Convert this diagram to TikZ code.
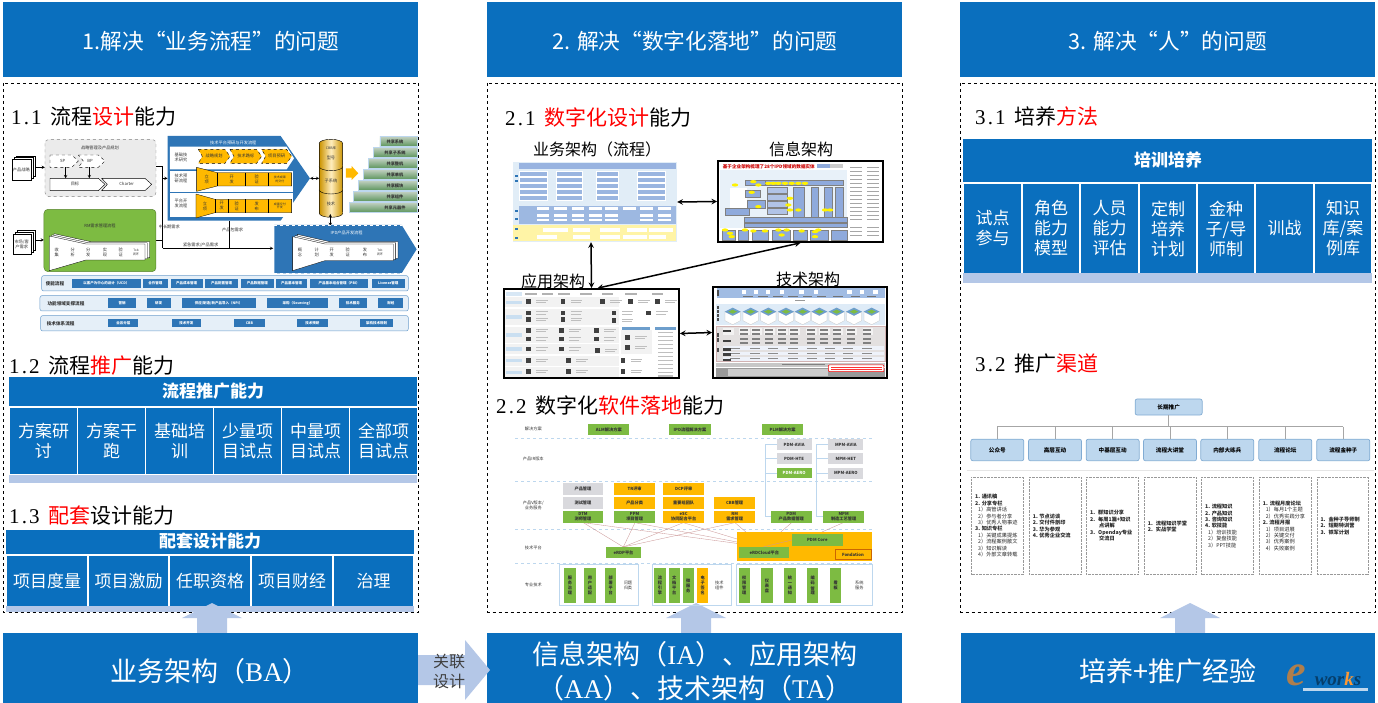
\documentclass[tikz,border=0pt]{standalone}
\usepackage{fontspec}
\setmainfont{Noto Sans CJK SC}
\newfontfamily\latf{Liberation Serif}
\newfontfamily\secf[LetterSpace=10]{Liberation Serif}
\definecolor{mainblue}{HTML}{0A6FBE}
\definecolor{paleblue}{HTML}{B4C7E7}
\definecolor{skyblue}{HTML}{BDD7EE}
\definecolor{thumbblue}{HTML}{2E75B6}
\definecolor{blockblue}{HTML}{8FAADC}
\definecolor{procorange}{HTML}{FFB900}
\definecolor{procgreen}{HTML}{7DBB42}
\definecolor{tilegrey}{HTML}{D9D9DD}
\definecolor{rulegrey}{HTML}{A6A6A6}
\tikzset{
  bluefill/.style={fill=mainblue,draw=none},
  whitetxt/.style={text=white,align=center,inner sep=0pt},
  sectitle/.style={anchor=west,inner sep=0pt,font=\fontsize{21}{23}\selectfont},
  hdtxt/.style={whitetxt,font=\fontsize{21.7}{24}\selectfont},
  bigtxt/.style={whitetxt,font=\fontsize{27}{34}\selectfont},
  celltxt/.style={whitetxt,font=\fontsize{17}{20}\selectfont},
  tabhd/.style={whitetxt,font=\bfseries\fontsize{17}{20}\selectfont},
  archtxt/.style={inner sep=0pt,font=\fontsize{16}{18}\selectfont},
  tiny/.style={inner sep=0pt,align=center,text=black!80,font=\fontsize{4.2}{5}\selectfont},
  tinyb/.style={tiny,font=\bfseries\fontsize{4.2}{5}\selectfont},
  tinyw/.style={tinyb,text=white},
  archframe/.style={draw=black,line width=1.7pt,inner sep=0pt,fill=white},
  link/.style={<->,>=stealth,line width=1.5pt},
  thin arrow/.style={->,>=stealth,line width=.5pt},
  listtxt/.style={anchor=west,inner sep=0pt,align=left,text=black!85,font=\fontsize{5.2}{6.4}\selectfont},
  treebox/.style={fill=skyblue,draw=thumbblue!60,line width=.7pt,rounded corners=2pt,inner sep=0pt,font=\bfseries\fontsize{5.6}{6}\selectfont},
}
\newcommand{\secnum}[1]{{\secf\fontsize{21}{21}\selectfont #1\hspace{9pt}}}
\begin{document}
\begin{tikzpicture}[x=1pt,y=-1pt]
   \useasboundingbox (0,0) rectangle (1378,703);

   % columns
   \foreach \xa/\xb/\cx/\t in {3/418/211/{1.解决“业务流程”的问题},487/902/695/{2. 解决“数字化落地”的问题},960/1375/1168/{3. 解决“人”的问题}}{
      \draw[bluefill] (\xa,2) rectangle (\xb,77);
      \node[hdtxt] (hd\xa) at (\cx,41) {\t};
      \draw[dashed,line width=.6pt] (\xa+.5,83) rectangle (\xb+.5,612);
   }

   \node[sectitle] (secAa) at (11,117) {\secnum{1.1}流程{\color{red}设计}能力};
   \node[sectitle] (secAb) at (9,366) {\secnum{1.2}流程{\color{red}推广}能力};
   \node[sectitle] (secAc) at (9,516) {\secnum{1.3}{\color{red}配套}设计能力};
   \node[sectitle] (secBa) at (505,117) {\secnum{2.1}{\color{red}数字化设计}能力};
   \node[sectitle] (secBb) at (496,405) {\secnum{2.2}数字化{\color{red}软件落地}能力};
   \node[sectitle] (secCa) at (975,117) {\secnum{3.1}培养{\color{red}方法}};
   \node[sectitle] (secCb) at (975,364) {\secnum{3.2}推广{\color{red}渠道}};

   % table 1.2
   \draw[bluefill] (9,377) rectangle (417,406);
   \node[tabhd] (tabAb) at (213,391) {流程推广能力};
   \draw[fill=paleblue,draw=none] (9,475) rectangle (417,483);
   \foreach \xa/\xb/\t [count=\i] in {10/77/{方案研\\讨},78/145/{方案干\\跑},146/213/{基础培\\训},214/281/{少量项\\目试点},282/349/{中量项\\目试点},350/417/{全部项\\目试点}}
   \draw[bluefill] (\xa,408) rectangle (\xb,474) node[midway,celltxt] (cellAb\i) {\t};

   % table 1.3
   \draw[bluefill] (6,530) rectangle (414,554);
   \node[tabhd] (tabAc) at (210,541) {配套设计能力};
   \draw[fill=paleblue,draw=none] (6,606) rectangle (414,612);
   \foreach \xa/\xb/\t [count=\i] in {7/87/项目度量,89/168/项目激励,170/250/任职资格,252/332/项目财经,334/413/治理}
   \draw[bluefill] (\xa,556) rectangle (\xb,606) node[midway,celltxt] (cellAc\i) {\t};

   % table 3.1
   \draw[bluefill] (963,139) rectangle (1372,182);
   \node[tabhd] (tabCa) at (1168,160) {培训培养};
   \draw[fill=paleblue,draw=none] (963,273) rectangle (1372,283);
   \foreach \xa/\xb/\t [count=\i] in {964/1021/{试点\\参与},1023/1079/{角色\\能力\\模型},1081/1138/{人员\\能力\\评估},1140/1196/{定制\\培养\\计划},1198/1254/{金种\\子/导\\师制},1256/1313/{训战},1315/1371/{知识\\库/案\\例库}}
   \draw[bluefill] (\xa,184) rectangle (\xb,273) node[midway,celltxt] (cellCa\i) {\t};

   % bottom bars and arrows
   \foreach \cx in {212,696,1190}
   \fill[paleblue] (\cx,603) -- (\cx+30,618) -- (\cx+15,618) -- (\cx+15,634) -- (\cx-15,634) -- (\cx-15,618) -- (\cx-30,618) -- cycle;
   \draw[bluefill] (3,633) rectangle (418,703);
   \node[bigtxt] (baseA) at (210,671) {业务架构（{\latf BA}）};
   \draw[bluefill] (487,633) rectangle (902,703);
   \node[bigtxt] (baseB) at (695,671) {信息架构（{\latf IA}）、应用架构\\（{\latf AA}）、技术架构（{\latf TA}）};
   \draw[bluefill] (961,633) rectangle (1375,703);
   \node[bigtxt] (baseC) at (1168,671) {培养+推广经验};
   \fill[paleblue] (418,655) -- (465,655) -- (465,640) -- (490,670) -- (465,700) -- (465,685) -- (418,685) -- cycle;
   \node[inner sep=0pt,align=center,text=black!75,font=\fontsize{16}{20}\selectfont] (rel) at (449,671) {关联\\设计};

   % logo
   \fill[skyblue] (1303,688) rectangle (1368,691);
   \node[inner sep=0pt,text=black!45!orange!70,font=\latf\itshape\bfseries\fontsize{44}{44}\selectfont] (logoe) at (1296,675) {e};
   \node[inner sep=0pt,text=black!20!mainblue!70!black,font=\latf\itshape\bfseries\fontsize{19}{19}\selectfont] (logow) at (1338,679) {wor{\color{orange!80}k}s};

   % 1.1 process map
   \begin{scope}[shift={(0,130)},x=.3333pt,y=-.3333pt]
   \foreach \dd in {14,7,0}
   \draw[fill=white,line width=.3pt,shift={(\dd pt/3,\dd pt/4)}] (35,88) rectangle (92,150);
   \node[tiny] (prodin) at (64,120) {产品战略};
   \draw[thin arrow] (108,112) -- (135,112);
   \foreach \dd in {14,7,0}
   \draw[fill=white,line width=.3pt,shift={(\dd pt/3,\dd pt/4)}] (38,312) rectangle (92,372);
   \node[tiny] (mktin) at (65,343) {市场/客\\户需求};
   \draw[thin arrow] (108,330) -- (132,330);

   \draw[dashed,rounded corners=4pt,fill=black!8,draw=black!50,line width=.4pt] (135,28) rectangle (468,200);
   \node[tiny] (strat) at (300,55) {战略管理及产品规划};
   \draw[dashed,fill=white,line width=.4pt] (150,75) -- (215,75) -- (235,93) -- (215,112) -- (150,112) -- cycle;
   \draw[dashed,fill=white,line width=.4pt] (235,75) -- (295,75) -- (315,93) -- (295,112) -- (235,112) -- (250,93) -- cycle;
   \node[tiny] (sp) at (188,93) {SP};
   \node[tiny] (bp) at (270,93) {BP};
   \draw[fill=white,line width=.4pt] (150,145) -- (295,145) -- (315,163) -- (295,182) -- (150,182) -- cycle;
   \draw[fill=white,line width=.4pt] (305,145) -- (435,145) -- (455,163) -- (435,182) -- (305,182) -- (322,163) -- cycle;
   \node[tiny] (goal) at (225,163) {目标};
   \node[tiny] (charter) at (380,163) {Charter};
   \draw[thin arrow] (197,112) -- (197,145);
   \draw[thin arrow] (268,112) -- (268,145);

   % lines behind the boxes
   \draw[line width=.5pt] (468,110) -- (488,110) -- (488,355);
   \draw[line width=.5pt] (468,330) -- (488,330);
   \draw[thin arrow] (488,355) -- (820,355);
   \draw[line width=.5pt] (687,272) -- (687,355);
   \draw[thin arrow] (488,145) -- (503,145);
   \node[tiny] (longreq) at (508,292) {中长期需求};
   \node[tiny] (pkgreq) at (698,300) {产品包需求};
   \node[tiny] (urgreq) at (602,344) {紧急需求/产品需求};

   \fill[thumbblue] (503,18) -- (842,18) -- (930,145) -- (842,272) -- (503,272) -- cycle;
   \node[tiny,text=white] (techtitle) at (700,38) {技术平台预研与开发流程};
   \fill[white] (510,50) -- (860,50) -- (882,85) -- (860,118) -- (510,118) -- cycle;
   \fill[white] (510,122) rectangle (878,185);
   \fill[white] (510,188) rectangle (878,262);
   \node[tiny] (rowa) at (543,83) {基础技\\术研究};
   \node[tiny] (rowb) at (543,146) {技术预\\研流程};
   \node[tiny] (rowc) at (543,220) {平台开\\发流程};
   \foreach \xa/\xb/\t [count=\i] in {595/690/战略规划,690/785/技术路标,785/875/项目预研}{
      \draw[dashed,fill=procorange,line width=.4pt] (\xa,58) -- (\xb-15,58) -- (\xb,79) -- (\xb-15,100) -- (\xa,100) -- (\xa+12,79) -- cycle;
      \node[tiny] (plan\i) at (\xa/2+\xb/2,79) {\t};
   }
   \draw[fill=procorange,line width=.3pt] (590,112) -- (652,128) -- (875,128) -- (875,168) -- (652,168) -- (590,184) -- cycle;
   \draw[fill=procorange,line width=.3pt] (588,192) -- (645,208) -- (875,208) -- (875,248) -- (645,248) -- (588,264) -- cycle;
   \foreach \x in {652,735,805} \draw[line width=.3pt] (\x,128) -- (\x,168);
   \foreach \x in {645,685,735,805} \draw[line width=.3pt] (\x,208) -- (\x,248);
   \foreach \x/\t [count=\i] in {620/{立\\项},695/{开\\发},770/{验\\证}} \node[tiny] (rowbt\i) at (\x,148) {\t};
   \node[tiny,font=\fontsize{3}{3.5}\selectfont] (rowbt) at (840,148) {技术成果\\的交付};
   \foreach \x/\t [count=\i] in {615/{立\\项},665/{开\\发},710/{验\\证},770/{发\\布}} \node[tiny] (rowct\i) at (\x,228) {\t};
   \node[tiny,font=\fontsize{3}{3.5}\selectfont] (rowct) at (840,228) {成果交付\\开发};

   % cbb
   \foreach \ya/\yb/\t/\n in {180/250/技术/cbbc,110/180/子系统/cbbb,40/110/型号/cbba}{
      \draw[left color=procorange!80!black,right color=procorange!80!black,middle color=procorange!25,line width=.4pt] (958,\ya) -- (958,\yb) arc[start angle=180,end angle=360,x radius=11.7pt,y radius=4pt] -- (1028,\ya) arc[start angle=0,end angle=180,x radius=11.7pt,y radius=4pt] -- cycle;
      \node[tiny] (\n) at (993,\ya/2+\yb/2+8) {\t};
   }
   \node[tiny,font=\fontsize{3.4}{4}\selectfont] (cbbtop) at (993,55) {CBB库};
   \draw[<->,>=stealth,line width=.5pt] (930,145) -- (958,145);
   \draw[<->,>=stealth,line width=.5pt] (991,252) -- (991,288);

   % stairs
   \foreach \x/\y/\t [count=\i] in {1048/218/共享元器件,1060/185/共享组件,1075/152/共享模块,1090/119/共享单机,1105/86/共享整机,1120/53/共享子系统,1140/20/共享系统}{
      \draw[top color=green!25!black!25,bottom color=green!35!black!65,draw=skyblue,line width=.7pt] (\x,\y) rectangle (1252,\y+30);
      \node[tinyb] (share\i) at (1185,\y+17) {\t};
   }
   \fill[procorange] (1038,115) -- (1055,115) -- (1055,108) -- (1075,130) -- (1055,150) -- (1055,143) -- (1038,143) -- cycle;

   % rm
   \draw[fill=procgreen,draw=procgreen!70!black,line width=.5pt,rounded corners=4pt] (132,238) rectangle (468,425);
   \node[tiny] (rmtitle) at (300,288) {RM需求管理流程};
   \foreach \dd in {14,7,0}
   \draw[fill=white,line width=.3pt,shift={(\dd pt/3,\dd pt/6)}] (148,318) -- (258,342) -- (435,342) -- (435,390) -- (258,390) -- (148,422) -- cycle;
   \foreach \x/\t [count=\i] in {170/{收\\集},218/{分\\析},265/{分\\发},315/{实\\现},362/{验\\证}} \node[tiny] (rms\i) at (\x,367) {\t};
   \node[tiny,font=\fontsize{3}{3.5}\selectfont] (rmend) at (408,367) {Tob\\闭环};

   % ipd
   \fill[thumbblue] (823,285) -- (1205,285) -- (1250,358) -- (1205,430) -- (823,430) -- cycle;
   \draw[dashed,draw=white,line width=.3pt] (823,285) -- (1205,285) (823,430) -- (1205,430);
   \node[tiny,text=white] (ipdtitle) at (1040,308) {IPD产品开发流程};
   \foreach \dd in {14,7,0}
   \draw[fill=white,line width=.3pt,shift={(\dd pt/3,\dd pt/6)}] (878,320) -- (975,342) -- (1180,342) -- (1180,392) -- (975,392) -- (878,422) -- cycle;
   \foreach \x/\t [count=\i] in {900/{概\\念},950/{计\\划},995/{开\\发},1043/{验\\证},1095/{发\\布}} \node[tiny] (ipds\i) at (\x,367) {\t};
   \node[tiny,font=\fontsize{3}{3.5}\selectfont] (ipdend) at (1140,367) {Tob\\闭环};

   % three support bars
   \foreach \xa/\ya/\yb/\x/\t/\n in {125/437/483/165/使能流程/bara,120/497/543/198/功能领域支撑流程/barb,122/557/603/182/技术体系流程/barc}{
      \draw[fill=skyblue!40,draw=thumbblue!70,rounded corners=2pt,line width=.5pt] (\xa,\ya) rectangle (1225,\yb);
      \node[tinyb,font=\bfseries\fontsize{4.6}{5}\selectfont] (\n) at (\x,\ya/2+\yb/2) {\t};
   }
   \foreach \xa/\xb/\t [count=\i] in {215/423/以客户为中心的设计（UCD）,428/505/合作管理,512/608/产品成本管理,615/715/产品配置管理,722/822/产品数据管理,828/922/产品基本管理,930/1105/产品基本组合管理（PBI）,1115/1215/License管理}
   \draw[fill=thumbblue,draw=none] (\xa,447) rectangle (\xb,473) node[midway,tinyw,font=\bfseries\fontsize{3.5}{4}\selectfont] (ena\i) {\t};
   \foreach \xa/\xb/\t [count=\i] in {325/408/营销,440/512/研发,545/767/{供应/制造/新产品导入（NPI）},800/985/采购（Sourcing）,1018/1100/技术服务,1135/1210/财经}
   \draw[fill=thumbblue,draw=none] (\xa,505) rectangle (\xb,533) node[midway,tinyw,font=\bfseries\fontsize{3.5}{4}\selectfont] (fun\i) {\t};
   \foreach \xa/\xb/\t [count=\i] in {325/415/业务分层,515/603/技术开发,702/795/CBB,892/983/技术预研,1080/1180/架构技术规划}
   \draw[fill=thumbblue,draw=none] (\xa,566) rectangle (\xb,592) node[midway,tinyw,font=\bfseries\fontsize{3.5}{4}\selectfont] (tec\i) {\t};
   \end{scope}

   % 2.1 four architectures
   \node[archtxt] (bizname) at (597,149) {业务架构（流程）};
   \node[archtxt] (infoname) at (801,149) {信息架构};
   \node[archtxt] (appname) at (553,281) {应用架构};
   \node[archtxt] (techname) at (808,279) {技术架构};

   \node[fill=skyblue!45,inner sep=0pt,minimum width=164pt,minimum height=80pt] (biz) at (595,202) {};
   \node[archframe,minimum width=165pt,minimum height=81pt] (info) at (800.5,201.5) {};
   \node[archframe,minimum width=175pt,minimum height=89pt] (app) at (591.5,333.5) {};
   \node[archframe,minimum width=174pt,minimum height=91pt] (tech) at (800,332.5) {};

   \begin{scope}[shift={(490,130)},x=.3333pt,y=-.3333pt]
   \fill[blockblue!80!skyblue] (88,98) rectangle (558,117);
   \foreach \xa/\xb in {88/170,198/275,318/385,440/525}{
      \foreach \y in {122,140,158,176,194}
      \draw[fill=blockblue!75!skyblue,draw=white,line width=.2pt] (\xa,\y) rectangle (\xb,\y+16);
   }
   \fill[blockblue!70!skyblue] (88,228) rectangle (558,282);
   \foreach \x in {140,192,245,298,345,400,450,505} \fill[white] (\x,232) rectangle (\x+38,240);
   \foreach \x in {140,192,245,298,345,450,505} \fill[white] (\x,252) rectangle (\x+38,260);
   \foreach \x in {140,192,245,298,345,450,505} \fill[white] (\x,266) rectangle (\x+38,274);
   \fill[orange!25!yellow!35] (70,285) rectangle (558,333);
   \foreach \x/\w in {160/75,250/50,330/60,410/60,478/70} \fill[white] (\x,293) rectangle (\x+\w,305);
   \foreach \x/\w in {140/60,250/50,330/60,400/70,478/50} \fill[white] (\x,316) rectangle (\x+\w,328);
   \foreach \y in {135,150,240,265,295,320} \fill[thumbblue] (75,\y) rectangle (85,\y+6);
   \end{scope}

   \begin{scope}[shift={(710,155)},x=.3333pt,y=-.3333pt]
   \node[anchor=west,inner sep=0pt,text=red!80!black,font=\bfseries\fontsize{4.6}{5}\selectfont] (infotitle) at (38,35) {基于企业架构梳理了28个IPD领域的数据实体};
   \fill[blockblue] (322,28) rectangle (360,40);
   \fill[black!20] (360,28) rectangle (400,40);
   \fill[skyblue!35] (30,45) rectangle (412,218);
   \fill[white] (60,100) rectangle (110,160);
   \foreach \xa/\ya/\xb/\yb in {130/75/400/90,105/75/165/90,45/160/118/180,105/105/150/125,110/135/165/160,248/97/283/185,303/97/325/185,342/97/365/185,375/97/400/185,103/187/412/200,103/203/412/216,35/225/75/255,83/225/115/255,125/225/175/255,185/225/240/255,250/225/290/255,300/225/355/255,362/225/410/255}
   \draw[fill=blockblue,draw=black!50,line width=.15pt] (\xa,\ya) rectangle (\xb,\yb);
   \foreach \y in {97,118,139,160}
   \draw[fill=blockblue!70,draw=black!50,line width=.15pt] (170,\y) rectangle (230,\y+18);
   \foreach \x/\y in {75/90,130/80,145/90,175/85,190/85,205/85,225/85,245/85,265/85,285/85,125/112,145/155,240/130,235/150,240/165,265/165,345/165,360/165,45/225,60/235,65/245,105/225,130/228,165/228,205/225,215/240,230/225,275/228,315/230,315/245,325/225}
   \fill[yellow] (\x,\y) ellipse (3.2pt and 1.6pt);
   \foreach \y in {35,47,59,71,83,95,107,119,131,143,155,167,179,191,215,227,239}{
      \fill[black!35] (420,\y) rectangle (455,\y+3);
      \fill[black!35] (470,\y) rectangle (508,\y+3);
   }
   \end{scope}

   \begin{scope}[shift={(500,280)},x=.3333pt,y=-.3333pt]
   \fill[skyblue!60] (18,37) rectangle (65,47);
   \foreach \x in {75,125,175,240,305,375,455} \fill[black!30] (\x,40) rectangle (\x+35,44);
   \foreach \ya/\yb in {52/82,88/135,140/190,193/222,227/257,262/292}{
      \fill[black!5] (15,\ya) rectangle (358,\yb);
      \fill[skyblue!80] (18,\ya/2+\yb/2-5) rectangle (65,\ya/2+\yb/2+5);
   }
   \fill[thumbblue!70] (366,141) rectangle (450,149);
   \fill[thumbblue!70] (465,141) rectangle (528,149);
   \fill[black!5] (362,150) rectangle (455,222);
   \foreach \y in {156,168,180,192,204,216,228,240,252,264,276,286} \fill[black!25] (475,\y) rectangle (518,\y+4);
   \foreach \x/\y in {78/58,182/58,300/58,385/58,465/58,78/92,182/92,335/92,438/92,78/112,182/112,335/115,78/145,178/145,282/145,78/170,178/170,282/170,375/165,375/195,78/200,178/200,285/205,78/235,198/235,362/235,78/268,198/268,362/268}{
      \fill[black!75] (\x,\y) rectangle (\x+14,\y+14);
      \fill[black!25] (\x+30,\y+2) rectangle (\x+65,\y+5);
      \fill[black!25] (\x+30,\y+9) rectangle (\x+60,\y+12);
   }
   \end{scope}

   \begin{scope}[shift={(710,280)},x=.3333pt,y=-.3333pt]
   \fill[blockblue!60!skyblue] (20,25) rectangle (525,55);
   \foreach \y in {30,40} \fill[black!70] (20,\y) rectangle (28,\y+8);
   \foreach \x in {95,132,168,210,268,312,412,450,490} \fill[white] (\x,30) rectangle (\x+13,42);
   \foreach \x in {100,145,190,235,278,320,370,422,470} \fill[black!55] (\x,47) rectangle (\x+28,50);
   \fill[black!40] (255,61) rectangle (285,64);
   \fill[skyblue!50] (18,72) rectangle (525,135);
   \foreach \y in {78,90,102,114} \fill[black!70] (20,\y) rectangle (28,\y+9);
   \foreach \x in {68,122,175,228,278,328,380,432,485}{
      \draw[fill=white,draw=black!25,line width=.2pt] (\x-23,95) -- (\x,107) -- (\x+23,95) -- (\x+23,122) -- (\x,134) -- (\x-23,122) -- cycle;
      \draw[fill=thumbblue!70,draw=none] (\x-24,95) -- (\x,83) -- (\x+24,95) -- (\x,107) -- cycle;
      \fill[procgreen] (\x-13,95) -- (\x,89) -- (\x+13,95) -- (\x,101) -- cycle;
   }
   \draw[fill=red!10!black!12,draw=red!40!black!30,line width=.4pt] (18,138) rectangle (525,245);
   \foreach \x in {42,90,125,165,203,240,290,330,370,410,460} \fill[white,opacity=.6] (\x-2,144) rectangle (\x+30,166);
   \foreach \y in {148,160,175,187} \foreach \x in {90,125,165,203,240,290,330,370,410,460}
   \fill[black!50] (\x,\y) rectangle (\x+24,\y+4);
   \foreach \y/\h in {198/13,215/11,232/10}{
      \fill[white!85!blockblue] (40,\y) rectangle (522,\y+\h);
      \foreach \x in {60,120,175,235,290,345,400,455} \fill[black!45] (\x,\y+\h/2-1.5) rectangle (\x+30,\y+\h/2+1.5);
   }
   \foreach \y in {150,180,205,220,236} \fill[black!75] (40,\y) rectangle (62,\y+7);
   \foreach \y in {160,175,205} \fill[black!70] (20,\y) rectangle (28,\y+12);
   \fill[black!22] (18,248) rectangle (525,262);
   \fill[black!50] (215,253) rectangle (345,256);
   \fill[black!40] (18,265) rectangle (525,291);
   \fill[black!20] (55,268) rectangle (355,288);
   \draw[fill=white,draw=red,line width=.5pt,rounded corners=1pt] (355,255) rectangle (522,275);
   \foreach \y in {260,267} \fill[red!80] (362,\y) rectangle (515,\y+3);
   \end{scope}

   \draw[link] (biz.east) -- (info.west);
   \draw[link] ([xshift=-4pt]biz.south) -- (app.north);
   \draw[link] ([xshift=6pt]app.north) -- (info.south);
   \draw[link] (app.east) -- (tech.west);

   % 2.2 software landscape
   \begin{scope}[shift={(490,415)},x=.3333pt,y=-.3333pt]
   \foreach \y in {70,198,343,445}
   \draw[dashed,draw=skyblue,line width=.5pt] (75,\y) -- (1155,\y);
   \foreach \y/\t/\n in {42/解决方案/laya,132/产品IR版本/layb,270/{产品V版本/\\业务服务}/layc,400/技术平台/layd,510/专业技术/laye}
   \node[tiny] (\n) at (130,\y) {\t};

   \draw[draw=skyblue,line width=.4pt] (860,88) -- (825,88) -- (825,305) -- (845,305);
   \draw[draw=skyblue,line width=.4pt] (825,130) -- (860,130) (825,175) -- (860,175);
   \draw[draw=skyblue,line width=.4pt] (1015,88) -- (980,88) -- (980,305) -- (1000,305);
   \draw[draw=skyblue,line width=.4pt] (980,130) -- (1015,130) (980,175) -- (1015,175);

   \foreach \xa/\ya/\xb/\yb in {280/323/400/396,435/323/400/396,580/323/400/396,735/323/400/396,435/323/820/396,280/323/820/396,580/323/820/396,735/323/820/396,905/323/820/396,1060/323/980/358}
   \draw[draw=black!20!pink,line width=.35pt] (\xa,\ya) -- (\xb,\yb);

   \foreach \xa/\ya/\xb/\yb/\t [count=\i] in {295/28/418/60/ALM解决方案,538/28/662/60/IPD流程解决方案,816/28/940/60/PLM解决方案}
   \draw[fill=procgreen,draw=none] (\xa,\ya) rectangle (\xb,\yb) node[midway,tinyb] (sol\i) {\t};
   \foreach \xa/\ya/\t [count=\i] in {860/72/PDM-AVIA,860/115/PDM-HTE,1015/72/MPM-AVIA,1015/115/MPM-HET,1015/158/MPM-AERO}
   \draw[fill=tilegrey,draw=none] (\xa,\ya) rectangle (\xa+105,\ya+33) node[midway,tinyb] (ver\i) {\t};
   \draw[fill=procgreen,draw=none] (860,158) rectangle (965,190) node[midway,tinyb,text=white] (verg) {PDM-AERO};

   \foreach \xa/\ya/\t/\c [count=\i] in {218/205/产品管理/tilegrey,218/247/测试管理/tilegrey,373/205/TR评审/procorange,373/247/产品分类/procorange,520/205/DCP评审/procorange,520/247/重要组团队/procorange,673/247/CBB管理/procorange}
   \draw[fill=\c,draw=none] (\xa,\ya) rectangle (\xa+122,\ya+35) node[midway,tinyb] (svc\i) {\t};
   \foreach \xa/\t/\c [count=\i] in {218/{DTM\\测师管理}/procgreen,373/{PPM\\项目管理}/procgreen,520/{eSC\\协同配合平台}/procorange,673/{RM\\需求管理}/procorange,843/{PDM\\产品数据管理}/procgreen,1000/{MPM\\制造工艺管理}/procgreen}
   \draw[fill=\c,draw=none] (\xa,288) rectangle (\xa+122,323) node[midway,tinyb] (cap\i) {\t};

   \fill[procorange] (740,352) rectangle (1147,437);
   \draw[draw=black!20!pink,line width=.35pt] (820,396) -- (906,375);
   \draw[fill=procgreen,draw=none] (348,396) rectangle (453,430) node[midway,tinyb] (erdp) {eRDP平台};
   \draw[fill=procgreen,draw=none] (906,358) rectangle (1058,392) node[midway,tinyb] (pdmcore) {PDM Core};
   \draw[fill=procgreen,draw=none] (748,396) rectangle (898,430) node[midway,tinyb] (erdc) {eRDCloud平台};
   \draw[fill=procorange,draw=orange!80!black,line width=.4pt] (1035,402) rectangle (1143,434) node[midway,tinyb] (fond) {Fondation};

   \foreach \xa/\xb in {208/445,487/723,740/1147}
   \draw[draw=skyblue,line width=.5pt] (\xa,447) rectangle (\xb,572);
   \foreach \x/\t/\c [count=\i] in {240/{服\\务\\治\\理}/procgreen,300/{用\\户\\适\\配}/procgreen,362/{部\\署\\平\\台}/procgreen,510/{流\\程\\引\\擎}/procgreen,553/{文\\档\\平\\台}/procgreen,595/{微\\服\\务}/procgreen,638/{电\\子\\签\\名}/procorange,763/{权\\限\\管\\理}/procgreen,831/{仪\\表\\盘}/procgreen,900/{统\\一\\通\\知}/procgreen,968/{编\\码\\管\\理}/procgreen,1037/{看\\板}/procgreen}
   \draw[fill=\c,draw=none] (\x-17,460) rectangle (\x+17,565) node[midway,tinyb] (tech\i) {\t};
   \foreach \x/\t/\n in {414/{问题\\归类}/sidea,688/{技术\\组件}/sideb,1108/{系统\\服务}/sidec}
   \node[tiny] (\n) at (\x,510) {\t};
   \end{scope}

   % 3.2 tree
   \begin{scope}[shift={(965,390)},x=.3333pt,y=-.3333pt]
   \node[treebox,minimum width=67pt,minimum height=16pt] (root) at (611,51) {长期推广};
   \draw[draw=rulegrey,line width=.7pt] (root.south) -- (611,110);
   \draw[draw=rulegrey,line width=.7pt] (97,110) -- (1135,110);
   \foreach \x/\t [count=\i] in {97/公众号,270/高层互动,443/中基层互动,615/流程大讲堂,787/内部大练兵,961/流程论坛,1135/流程金种子}{
      \node[treebox,minimum width=53pt,minimum height=21.5pt] (ch\i) at (\x,180) {\t};
      \draw[draw=rulegrey,line width=.7pt] (\x,110) -- (ch\i.north);
   }
   \draw[draw=black!10,line width=.8pt] (5,242) -- (1228,242);
   \foreach \xa in {20,193,364,538,710,883,1056}
   \draw[densely dotted,draw=black!40,line width=.4pt] (\xa,262) rectangle (\xa+155,552);
   \node[listtxt] (lista) at (30,407) {\textbf{1. 通讯稿}\\\textbf{2. 分享专栏}\\\hspace{3pt}1）高管讲话\\\hspace{3pt}2）参与者分享\\\hspace{3pt}3）优秀人物事迹\\\textbf{3. 知识专栏}\\\hspace{3pt}1）关键成果提炼\\\hspace{3pt}2）流程案例散文\\\hspace{3pt}3）知识解读\\\hspace{3pt}4）外部文章转载};
   \node[listtxt] (listb) at (203,408) {\textbf{1. 节点访谈}\\\textbf{2. 交付件剖印}\\\textbf{3. 华为参观}\\\textbf{4. 优秀企业交流}};
   \node[listtxt] (listc) at (375,407) {\textbf{1.\hspace{3pt}群知识分享}\\\textbf{2.\hspace{3pt}每周1篇+知识}\\\hspace{9pt}\textbf{点讲解}\\\textbf{3.\hspace{3pt}Openday专业}\\\hspace{9pt}\textbf{交流日}};
   \node[listtxt] (listd) at (548,409) {\textbf{1.\hspace{3pt}流程知识学堂}\\\textbf{2.\hspace{3pt}实战学堂}};
   \node[listtxt] (liste) at (720,408) {\textbf{1. 流程知识}\\\textbf{2. 产品知识}\\\textbf{3. 咨询知识}\\\textbf{4. 软技能}\\\hspace{3pt}1）培训技能\\\hspace{3pt}2）复盘技能\\\hspace{3pt}3）PPT技能};
   \node[listtxt] (listf) at (893,408) {\textbf{1.\hspace{2pt}流程月度论坛}\\\hspace{3pt}1）每月1个主题\\\hspace{3pt}2）优秀实践分享\\\textbf{2. 流程月报}\\\hspace{3pt}1）项目进展\\\hspace{3pt}2）关键交付\\\hspace{3pt}3）优秀案例\\\hspace{3pt}4）失败案例};
   \node[listtxt] (listg) at (1066,408) {\textbf{1.\hspace{3pt}金种子导师制}\\\textbf{2.\hspace{3pt}短期特训营}\\\textbf{3.\hspace{3pt}铁军计划}};
   \end{scope}
\end{tikzpicture}
\end{document}
